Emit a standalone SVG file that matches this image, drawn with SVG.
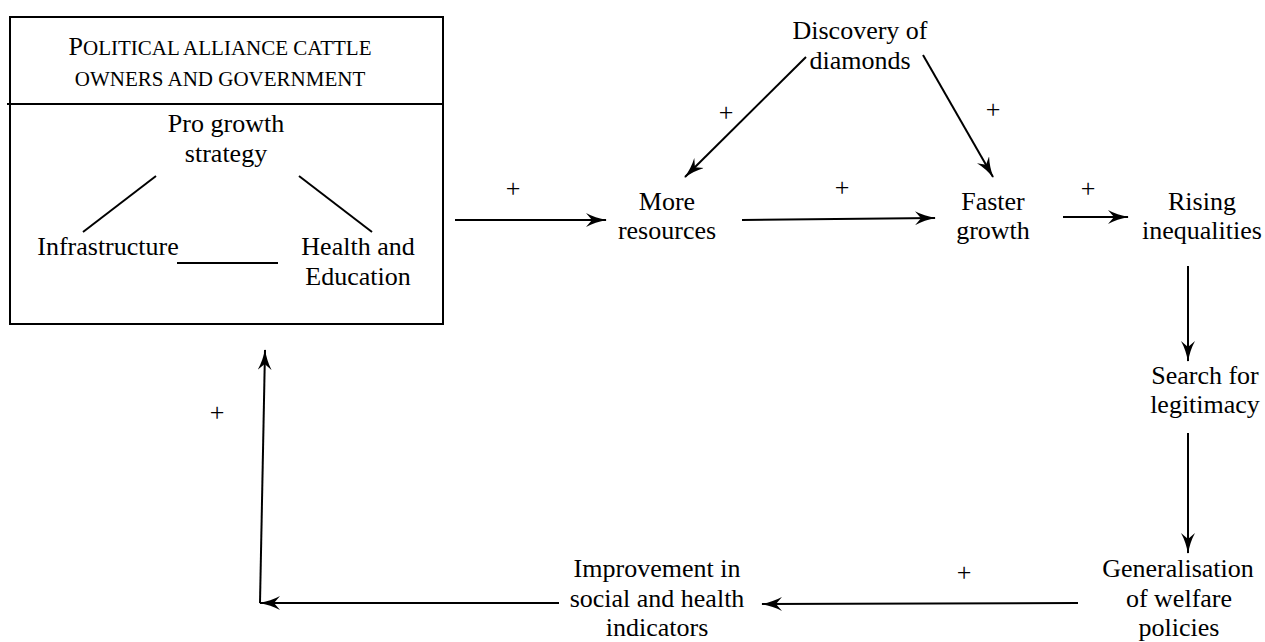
<svg xmlns="http://www.w3.org/2000/svg" width="1265" height="642" viewBox="0 0 1265 642" font-family="'Liberation Serif', 'DejaVu Serif', serif">
<style>
text{font-family:'Liberation Serif','DejaVu Serif',serif;fill:#000;text-anchor:middle}
.lbl{font-size:26px}
.sc{font-size:21px}
.plus{font-size:26px}
.ln{stroke:#000;stroke-width:2;fill:none}
.arr{stroke:#000;stroke-width:2;fill:none;marker-end:url(#ah)}
</style>
<defs>
<marker id="ah" viewBox="0 0 21 14" refX="20" refY="7" markerWidth="21" markerHeight="14" markerUnits="userSpaceOnUse" orient="auto">
<path d="M21,7 Q9,5 0,0 L6,7 L0,14 Q9,9 21,7 Z" fill="#000"/>
</marker>
</defs>
<rect width="1265" height="642" fill="#fff"/>
<g id="alliance-box">
<rect x="10" y="17" width="433" height="307" class="ln"/>
<line x1="7" y1="104" x2="443" y2="104" class="ln"/>
<text x="220" y="55"><tspan style="font-size:26px">P</tspan><tspan class="sc">OLITICAL ALLIANCE CATTLE</tspan></text>
<text x="220" y="86" class="sc">OWNERS AND GOVERNMENT</text>
</g>
<g id="pro-growth">
<text x="226" y="132" class="lbl">Pro growth</text>
<text x="226" y="162" class="lbl">strategy</text>
</g>
<g id="infrastructure">
<text x="108" y="255" class="lbl">Infrastructure</text>
</g>
<g id="health-education">
<text x="358" y="255" class="lbl">Health and</text>
<text x="358" y="285" class="lbl">Education</text>
</g>
<g id="discovery">
<text x="860" y="39" class="lbl">Discovery of</text>
<text x="860" y="69" class="lbl">diamonds</text>
</g>
<g id="more-resources">
<text x="667" y="210" class="lbl">More</text>
<text x="667" y="239" class="lbl">resources</text>
</g>
<g id="faster-growth">
<text x="993" y="210" class="lbl">Faster</text>
<text x="993" y="239" class="lbl">growth</text>
</g>
<g id="rising-inequalities">
<text x="1202" y="210" class="lbl">Rising</text>
<text x="1202" y="239" class="lbl">inequalities</text>
</g>
<g id="search-legitimacy">
<text x="1205" y="384" class="lbl">Search for</text>
<text x="1205" y="413" class="lbl">legitimacy</text>
</g>
<g id="generalisation">
<text x="1178" y="577" class="lbl">Generalisation</text>
<text x="1179" y="607" class="lbl">of welfare</text>
<text x="1179" y="636" class="lbl">policies</text>
</g>
<g id="improvement">
<text x="657" y="577" class="lbl">Improvement in</text>
<text x="657" y="607" class="lbl">social and health</text>
<text x="657" y="636" class="lbl">indicators</text>
</g>
<g id="connectors">
<line x1="156" y1="176" x2="83" y2="232" class="ln"/>
<line x1="299" y1="176" x2="372" y2="232" class="ln"/>
<line x1="177" y1="263" x2="278" y2="263" class="ln"/>
<line x1="455" y1="220" x2="606" y2="220" class="arr"/>
<line x1="742" y1="220" x2="935" y2="218" class="arr"/>
<line x1="806" y1="57" x2="685" y2="177" class="arr"/>
<line x1="923" y1="55" x2="993" y2="177" class="arr"/>
<line x1="1063" y1="217" x2="1128" y2="217" class="arr"/>
<line x1="1188" y1="266" x2="1188" y2="361" class="arr"/>
<line x1="1188" y1="433" x2="1188" y2="553" class="arr"/>
<line x1="1078" y1="603" x2="762" y2="604" class="arr"/>
<line x1="559" y1="603" x2="260" y2="603" class="arr"/>
<line x1="260" y1="603" x2="265" y2="350" class="arr"/>
</g>
<g id="signs">
<text x="513" y="197" class="plus">+</text>
<text x="842" y="196" class="plus">+</text>
<text x="726" y="121" class="plus">+</text>
<text x="993" y="118" class="plus">+</text>
<text x="1088" y="197" class="plus">+</text>
<text x="964" y="581" class="plus">+</text>
<text x="217" y="421" class="plus">+</text>
</g>
</svg>
